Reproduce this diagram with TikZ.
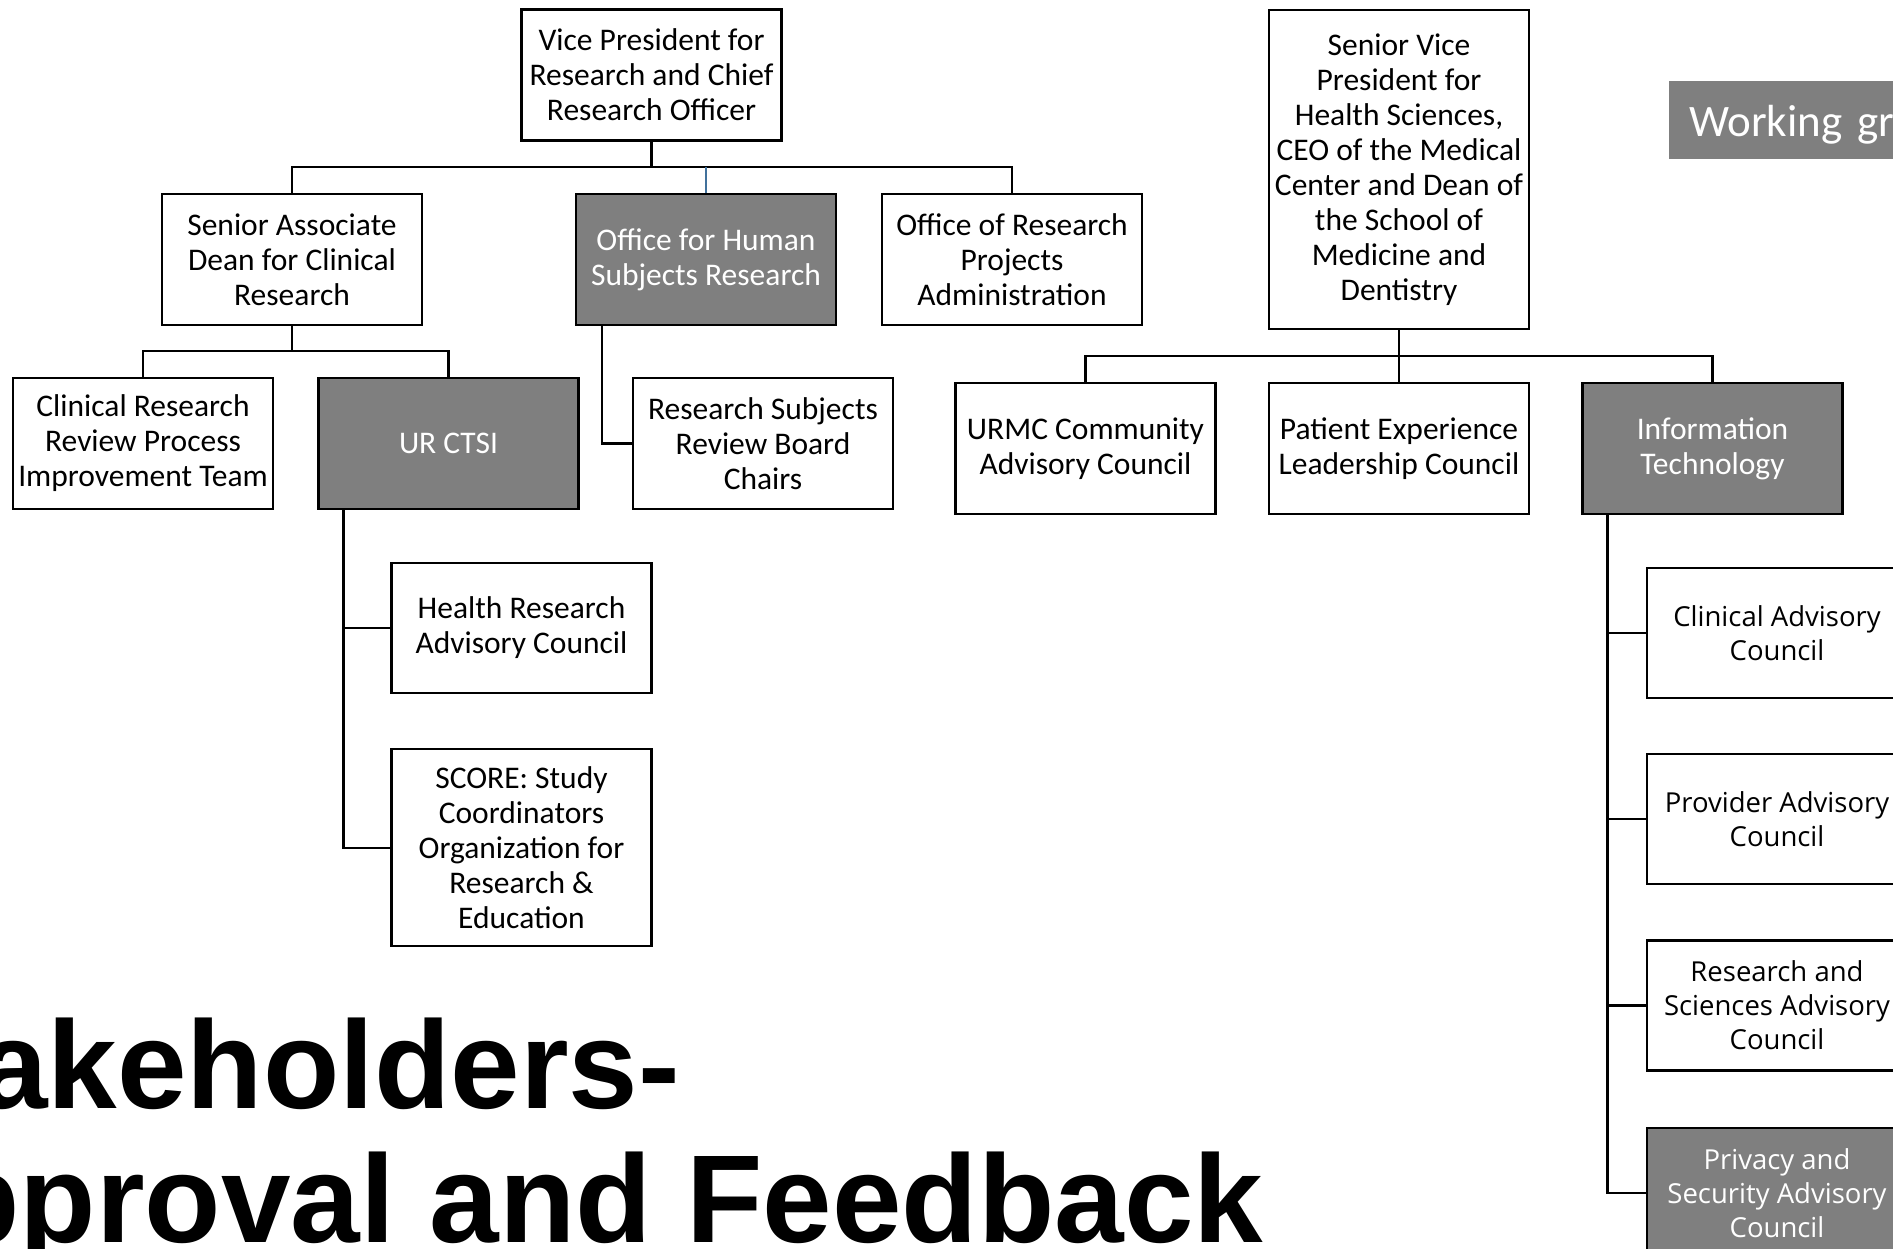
\documentclass[tikz,border=0pt]{standalone}
\usepackage{fontspec}
\usetikzlibrary{positioning}
\newfontfamily\carlito{Carlito}
\newfontfamily\opensans{Open Sans}
\newfontfamily\arialfont{Liberation Sans}
\definecolor{boxgray}{RGB}{127,127,127}
\definecolor{linkblue}{RGB}{65,113,156}
\newcommand{\boxwd}{260pt}
\tikzset{
    orgsty/.style={draw=black,line width=2.25pt,rectangle,minimum width=\boxwd,minimum height=131pt,inner sep=0pt,align=center,font=\carlito\fontsize{31.5pt}{35pt}\selectfont},
    graysty/.style={orgsty,fill=boxgray,text=white},
    rcolsty/.style={orgsty,minimum height=130pt,font=\opensans\fontsize{27.5pt}{34pt}\selectfont},
    rgraysty/.style={rcolsty,fill=boxgray,text=white},
    linesty/.style={draw=black,line width=2.25pt},
    bluesty/.style={draw=linkblue,line width=1.5pt},
    titlesty/.style={anchor=base west,inner sep=0pt,font=\arialfont\bfseries\fontsize{125pt}{134pt}\selectfont},
    wgsty/.style={fill=boxgray,text=white,minimum height=78pt,text width=300pt,inner xsep=20pt,inner ysep=0pt,align=left,text height=40pt,text depth=8pt,font=\carlito\fontsize{45pt}{48pt}\selectfont},
}

\begin{document}
\begin{tikzpicture}[x=1pt,y=-1pt]
  \useasboundingbox (0,0) rectangle (1893,1249);
  \clip (0,0) rectangle (1893,1249);

  % research side
  \node[orgsty] (vp) at (651.5,75) {Vice President for\\Research and Chief\\Research Officer};
  \node[orgsty] (sad) at (292,259.5) {Senior Associate\\Dean for Clinical\\Research};
  \node[graysty] (ohsr) at (706,259.5) {Office for Human\\Subjects Research};
  \node[orgsty] (orpa) at (1012,259.5) {Office of Research\\Projects\\Administration};
  \node[orgsty] (crr) at (143,443.5) {Clinical Research\\Review Process\\Improvement Team};
  \node[graysty] (ctsi) at (448.5,443.5) {UR CTSI};
  \node[orgsty] (rsrb) at (763,443.5) {Research Subjects\\Review Board\\Chairs};
  \node[orgsty,minimum height=130pt] (hrac) at (521.5,628) {Health Research\\Advisory Council};
  \node[orgsty,minimum height=197pt,below=54pt of hrac] (score) {SCORE: Study\\Coordinators\\Organization for\\Research \&\\Education};

  \coordinate (vpbar) at (651.5,167);
  \coordinate (sadbar) at (292,351);
  \draw[linesty] (vp.south) -- (vpbar);
  \draw[linesty] (sad.north) |- (vpbar) -| (orpa.north);
  \draw[bluesty] (ohsr.north) -- (ohsr.north |- vpbar);
  \draw[linesty] (sad.south) -- (sadbar);
  \draw[linesty] (crr.north) |- (sadbar) -| (ctsi.north);
  \draw[linesty] ([xshift=27pt]ohsr.south west) |- (rsrb.west);
  \foreach \kid in {hrac,score}
    \draw[linesty] ([xshift=26pt]ctsi.south west) |- (\kid.west);

  % health sciences side
  \node[orgsty,minimum height=319pt] (svp) at (1399,169.5) {Senior Vice\\President for\\Health Sciences,\\CEO of the Medical\\Center and Dean of\\the School of\\Medicine and\\Dentistry};
  \node[orgsty] (urmc) at (1085.5,448.5) {URMC Community\\Advisory Council};
  \node[orgsty] (pelc) at (1399,448.5) {Patient Experience\\Leadership Council};
  \node[graysty] (it) at (1712.5,448.5) {Information\\Technology};
  \node[rcolsty] (cac) at (1777,633) {Clinical Advisory\\Council};
  \node[rcolsty,below=54pt of cac] (pac) {Provider Advisory\\Council};
  \node[rcolsty,below=54pt of pac] (rsac) {Research and\\Sciences Advisory\\Council};
  \node[rgraysty,below=55pt of rsac] (psac) {Privacy and\\Security Advisory\\Council};

  \coordinate (svpbar) at (1399,356);
  \draw[linesty] (svp.south) -- (pelc.north);
  \draw[linesty] (urmc.north) |- (svpbar) -| (it.north);
  \foreach \kid in {cac,pac,rsac,psac}
    \draw[linesty] ([xshift=26pt]it.south west) |- (\kid.west);

  % label and title
  \node[wgsty,anchor=north west] (wg) at (1669,81) {Working group};
  \node[titlesty] (ttltop) at (-147,1108) {Stakeholders-};
  \node[titlesty] (ttlbot) at (-147,1242) {Approval and Feedback};
\end{tikzpicture}
\end{document}
